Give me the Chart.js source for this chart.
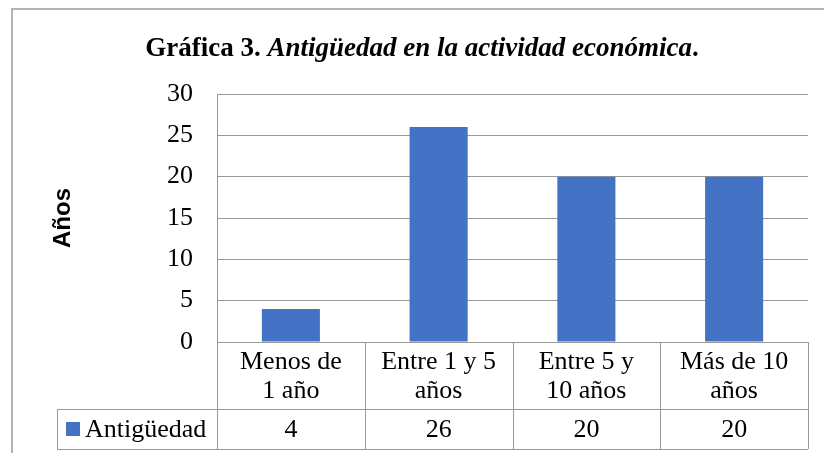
<!DOCTYPE html>
<html>
<head>
<meta charset="utf-8">
<script src="https://cdn.jsdelivr.net/npm/chart.js@4"></script>
<style>
  html, body { margin: 0; padding: 0; background: #fff; }
  #wrap { width: 824px; height: 453px; }
</style>
</head>
<body>
<div id="wrap"><canvas id="antChart" width="824" height="453"></canvas></div>
<script>
var categories = [['Menos de', '1 año'], ['Entre 1 y 5', 'años'], ['Entre 5 y', '10 años'], ['Más de 10', 'años']];
var values = [4, 26, 20, 20];
var seriesName = 'Antigüedad';
var yMin = 0, yMax = 30, yStep = 5;
var titleLead = 'Gráfica 3. ';
var titleRest = 'Antigüedad en la actividad económica';

var serif = '"Liberation Serif", "Times New Roman", serif';
var lineColor = '#999999';
var barColor = '#4472C4';

// frame, title and data table drawn around the plot
var tablePlugin = {
    id: 'dataTable',
    beforeDraw: function(chart) {
        var c = chart.ctx;
        c.save();
        c.strokeStyle = '#b3b3b3';
        c.lineWidth = 2;
        c.strokeRect(12, 9, 900, 600);
        c.restore();
    },
    afterDraw: function(chart) {
        var c = chart.ctx;
        var area = chart.chartArea;
        var x = chart.scales.x;
        var rowTop = area.bottom, rowMid = 409, rowBot = 449, legLeft = 57;

        // title
        c.save();
        c.fillStyle = '#000';
        c.textBaseline = 'middle';
        c.font = 'bold 27px ' + serif;
        var w1 = c.measureText(titleLead).width;
        var w3 = c.measureText('.').width;
        c.font = 'italic bold 27px ' + serif;
        var w2 = c.measureText(titleRest).width;
        var tx = 422 - (w1 + w2 + w3) / 2;
        c.font = 'bold 27px ' + serif;
        c.fillText(titleLead, tx, 49);
        c.font = 'italic bold 27px ' + serif;
        c.fillText(titleRest, tx + w1, 49);
        c.font = 'bold 27px ' + serif;
        c.fillText('.', tx + w1 + w2, 49);

        // cell boundaries from the category scale
        var edges = [area.left];
        for (var i = 0; i < categories.length - 1; i++) {
            edges.push((x.getPixelForValue(i) + x.getPixelForValue(i + 1)) / 2);
        }
        edges.push(area.right);

        c.strokeStyle = lineColor;
        c.lineWidth = 1;
        c.beginPath();
        c.moveTo(legLeft, rowMid + 0.5); c.lineTo(area.right, rowMid + 0.5);
        c.moveTo(legLeft, rowBot + 0.5); c.lineTo(area.right, rowBot + 0.5);
        c.moveTo(legLeft + 0.5, rowMid); c.lineTo(legLeft + 0.5, rowBot);
        edges.forEach(function(e) {
            var ex = Math.round(e) + 0.5;
            c.moveTo(ex, rowTop); c.lineTo(ex, rowBot);
        });
        c.stroke();

        c.fillStyle = '#000';
        c.font = '26px ' + serif;
        c.textAlign = 'center';
        categories.forEach(function(lines, i) {
            var cx = x.getPixelForValue(i);
            c.fillText(lines[0], cx, 362);
            c.fillText(lines[1], cx, 391);
            c.fillText(String(values[i]), cx, 430);
        });

        // legend key
        c.fillStyle = barColor;
        c.fillRect(66, 422, 14, 14);
        c.fillStyle = '#000';
        c.textAlign = 'left';
        c.fillText(seriesName, 85, 430);
        c.restore();
    }
};

new Chart(document.getElementById('antChart'), {
    type: 'bar',
    data: {
        labels: categories,
        datasets: [{
            label: seriesName,
            data: values,
            backgroundColor: barColor,
            borderWidth: 0,
            categoryPercentage: 1,
            barPercentage: 0.393
        }]
    },
    options: {
        responsive: false,
        animation: false,
        layout: { padding: { left: 0, top: 94, right: 16, bottom: 111 } },
        plugins: {
            legend: { display: false },
            title: { display: false },
            tooltip: { enabled: false }
        },
        scales: {
            x: { display: false },
            y: {
                min: yMin,
                max: yMax,
                afterFit: function(s) { s.width = 217; },
                ticks: { stepSize: yStep, padding: 24, color: '#000', font: { family: serif, size: 26 } },
                grid: { color: lineColor, drawTicks: false },
                border: { color: lineColor },
                title: {
                    display: true,
                    text: 'Años',
                    color: '#000',
                    font: { family: '"Liberation Sans", Arial, sans-serif', size: 24, weight: 'bold' },
                    padding: { top: 49, bottom: 0 }
                }
            }
        }
    },
    plugins: [tablePlugin]
});
</script>
</body>
</html>
